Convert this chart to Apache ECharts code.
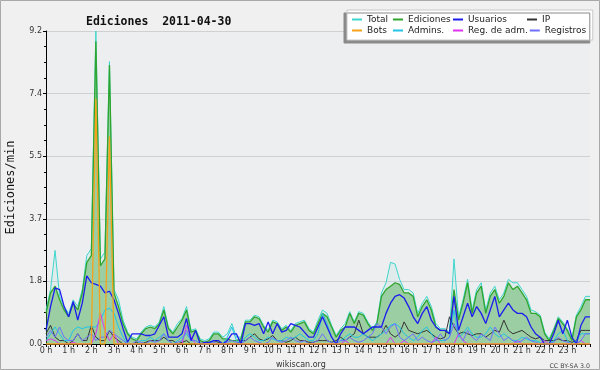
<!DOCTYPE html>
<html>
<head>
<meta charset="utf-8">
<script src="https://cdn.jsdelivr.net/npm/echarts@6/dist/echarts.min.js"></script>
<style>
  html, body { margin: 0; padding: 0; background: #f0f0f0; }
  #chart { width: 600px; height: 370px; }
</style>
</head>
<body>
<div id="chart"></div>
<script>
// one sample every 12 minutes, 0 h .. 24 h
const hourLabels = ['0 h', '1 h', '2 h', '3 h', '4 h', '5 h', '6 h', '7 h', '8 h', '9 h', '10 h', '11 h',
    '12 h', '13 h', '14 h', '15 h', '16 h', '17 h', '18 h', '19 h', '20 h', '21 h', '22 h', '23 h'];

const total = [1.0, 1.6, 2.75, 1.4, 1.1, 0.9, 1.3, 1.1, 1.6, 2.6, 2.8, 9.2, 2.5, 2.7, 8.3,
    1.6, 1.3, 0.7, 0.35, 0.2, 0.15, 0.35, 0.5, 0.55, 0.5, 0.65, 1.1, 0.5, 0.35, 0.6,
    0.75, 1.1, 0.4, 0.45, 0.15, 0.1, 0.15, 0.35, 0.35, 0.2, 0.3, 0.6, 0.2, 0.2, 0.7,
    0.7, 0.85, 0.8, 0.55, 0.4, 0.7, 0.65, 0.45, 0.55, 0.4, 0.6, 0.65, 0.7, 0.45, 0.35,
    0.7, 1.0, 0.9, 0.55, 0.25, 0.45, 0.6, 0.95, 0.65, 0.95, 0.9, 0.65, 0.45, 0.65, 1.5,
    1.8, 2.4, 2.35, 1.9, 1.6, 1.6, 1.5, 0.9, 1.2, 1.4, 1.1, 0.6, 0.45, 0.45, 0.35,
    2.5, 0.8, 1.3, 1.9, 1.0, 1.6, 1.8, 1.0, 1.5, 1.7, 1.3, 1.5, 1.9, 1.8, 1.8,
    1.6, 1.4, 1.0, 0.95, 0.85, 0.35, 0.15, 0.45, 0.8, 0.65, 0.45, 0.15, 0.85, 1.1, 1.4, 1.4];

const ediciones = [0.9, 1.5, 1.7, 1.3, 1.0, 0.8, 1.2, 1.0, 1.5, 2.4, 2.6, 8.9, 2.3, 2.5, 8.2,
    1.5, 1.1, 0.6, 0.3, 0.15, 0.1, 0.3, 0.45, 0.5, 0.45, 0.6, 1.0, 0.45, 0.3, 0.5,
    0.7, 1.0, 0.35, 0.4, 0.1, 0.05, 0.1, 0.3, 0.3, 0.15, 0.15, 0.1, 0.1, 0.15, 0.65,
    0.65, 0.8, 0.75, 0.5, 0.35, 0.65, 0.6, 0.4, 0.5, 0.35, 0.55, 0.6, 0.65, 0.4, 0.3,
    0.6, 0.9, 0.8, 0.5, 0.2, 0.4, 0.5, 0.9, 0.6, 0.9, 0.85, 0.6, 0.4, 0.6, 1.4,
    1.6, 1.7, 1.8, 1.75, 1.5, 1.5, 1.4, 0.8, 1.1, 1.3, 1.0, 0.5, 0.4, 0.4, 0.3,
    1.6, 0.7, 1.2, 1.8, 0.9, 1.5, 1.7, 0.9, 1.4, 1.6, 1.2, 1.4, 1.8, 1.6, 1.7,
    1.5, 1.3, 0.9, 0.9, 0.8, 0.3, 0.1, 0.4, 0.75, 0.6, 0.4, 0.1, 0.8, 1.0, 1.3, 1.3];

const usuarios = [0.4, 1.1, 1.65, 1.6, 1.1, 0.8, 1.25, 0.7, 1.2, 2.0, 1.8, 1.75, 1.7, 1.5, 1.55,
    1.3, 0.9, 0.45, 0.05, 0.3, 0.3, 0.3, 0.25, 0.25, 0.3, 0.55, 0.8, 0.2, 0.2, 0.2,
    0.3, 0.75, 0.1, 0.4, 0.0, 0.05, 0.05, 0.1, 0.1, 0.0, 0.1, 0.3, 0.3, 0.0, 0.6,
    0.6, 0.55, 0.6, 0.3, 0.65, 0.3, 0.6, 0.35, 0.4, 0.6, 0.55, 0.5, 0.35, 0.2, 0.2,
    0.5, 0.8, 0.5, 0.2, 0.0, 0.3, 0.5, 0.5, 0.5, 0.4, 0.3, 0.4, 0.5, 0.5, 0.5,
    0.9, 1.2, 1.4, 1.45, 1.35, 1.1, 0.8, 0.6, 0.9, 1.1, 0.7, 0.5, 0.4, 0.4, 0.3,
    1.4, 0.4, 0.8, 1.2, 0.8, 1.1, 0.9, 0.6, 1.0, 1.4, 0.8, 1.0, 1.2, 1.0, 0.9,
    0.9, 0.8, 0.5, 0.3, 0.2, 0.0, 0.0, 0.3, 0.7, 0.3, 0.7, 0.2, 0.0, 0.55, 0.8, 0.8];

const ip = [0.3, 0.55, 0.2, 0.1, 0.1, 0.0, 0.1, 0.3, 0.1, 0.1, 0.55, 0.2, 0.1, 0.1, 0.4,
    0.2, 0.1, 0.0, 0.0, 0.0, 0.05, 0.0, 0.05, 0.1, 0.1, 0.1, 0.2, 0.1, 0.1, 0.0,
    0.05, 0.1, 0.0, 0.0, 0.0, 0.0, 0.0, 0.1, 0.05, 0.0, 0.0, 0.0, 0.0, 0.1, 0.1,
    0.2, 0.3, 0.15, 0.1, 0.15, 0.25, 0.1, 0.1, 0.05, 0.1, 0.2, 0.1, 0.1, 0.05, 0.05,
    0.1, 0.1, 0.1, 0.05, 0.1, 0.2, 0.1, 0.2, 0.3, 0.7, 0.3, 0.2, 0.2, 0.2, 0.3,
    0.55, 0.3, 0.2, 0.3, 0.65, 0.4, 0.35, 0.3, 0.35, 0.4, 0.3, 0.2, 0.15, 0.2, 0.8,
    0.5, 0.3, 0.35, 0.3, 0.25, 0.3, 0.3, 0.2, 0.3, 0.4, 0.35, 0.7, 0.4, 0.3, 0.35,
    0.4, 0.3, 0.2, 0.15, 0.2, 0.1, 0.1, 0.1, 0.15, 0.1, 0.1, 0.05, 0.1, 0.4, 0.4, 0.4];

const bots = [0, 0, 0, 0, 0, 0, 0, 0, 0, 0, 0, 7.2, 0, 0, 6.1,
    0, 0, 0, 0, 0, 0, 0, 0, 0, 0, 0, 0, 0, 0, 0,
    0, 0, 0, 0, 0, 0, 0, 0, 0, 0, 0, 0, 0, 0, 0,
    0, 0, 0, 0, 0, 0, 0, 0, 0, 0, 0, 0, 0, 0, 0,
    0, 0, 0, 0, 0, 0, 0, 0, 0, 0, 0, 0, 0, 0, 0,
    0, 0, 0, 0, 0, 0, 0, 0, 0, 0, 0, 0, 0, 0, 0,
    0, 0, 0, 0, 0, 0, 0, 0, 0, 0, 0, 0, 0, 0, 0,
    0, 0, 0, 0, 0, 0, 0, 0, 0, 0, 0, 0, 0, 0, 0, 0];

const admins = [0.1, 0.3, 0.5, 0.3, 0.1, 0.1, 0.4, 0.5, 0.45, 0.5, 0.5, 0.5, 0.7, 1.0, 1.05,
    0.9, 0.5, 0.2, 0.0, 0.0, 0.0, 0.1, 0.1, 0.2, 0.1, 0.2, 0.3, 0.1, 0.0, 0.1,
    0.2, 0.3, 0.1, 0.1, 0.0, 0.0, 0.0, 0.1, 0.1, 0.0, 0.2, 0.5, 0.1, 0.0, 0.2,
    0.3, 0.2, 0.1, 0.1, 0.2, 0.15, 0.1, 0.1, 0.2, 0.15, 0.2, 0.3, 0.2, 0.1, 0.1,
    0.3, 0.9, 0.6, 0.2, 0.0, 0.1, 0.2, 0.3, 0.2, 0.2, 0.3, 0.2, 0.1, 0.2, 0.3,
    0.4, 0.55, 0.6, 0.5, 0.3, 0.2, 0.1, 0.2, 0.4, 0.5, 0.3, 0.1, 0.1, 0.1, 0.2,
    1.0, 0.2, 0.3, 0.5, 0.3, 0.2, 0.2, 0.3, 0.5, 0.3, 0.2, 0.3, 0.2, 0.1, 0.1,
    0.2, 0.15, 0.1, 0.1, 0.05, 0.0, 0.0, 0.1, 0.3, 0.4, 0.1, 0.0, 0.1, 0.3, 0.3, 0.3];

const regAdm = [0.1, 0.15, 0.1, 0, 0, 0, 0.05, 0, 0, 0, 0, 0.3, 0.9, 0.4, 0.1,
    0.3, 0, 0, 0, 0, 0, 0, 0, 0, 0, 0, 0, 0, 0, 0,
    0, 0.55, 0.2, 0, 0, 0, 0, 0, 0, 0, 0, 0, 0, 0, 0,
    0, 0, 0, 0, 0, 0, 0, 0, 0, 0, 0, 0, 0, 0, 0,
    0, 0, 0, 0, 0, 0, 0.1, 0, 0, 0, 0, 0, 0, 0, 0,
    0, 0.2, 0, 0, 0.1, 0, 0, 0, 0, 0, 0, 0.2, 0, 0, 0,
    0, 0.3, 0.1, 0, 0, 0, 0, 0, 0, 0, 0, 0, 0, 0, 0.1,
    0, 0, 0, 0, 0, 0.1, 0, 0, 0, 0, 0, 0, 0, 0.1, 0, 0];

const registros = [0.2, 0.4, 0.2, 0.5, 0.2, 0.1, 0.1, 0.3, 0.1, 0.2, 0.3, 0.1, 0.2, 0.2, 0.4,
    0.3, 0.2, 0.1, 0.0, 0.0, 0.1, 0.05, 0.0, 0.1, 0.05, 0.1, 0.3, 0.1, 0.0, 0.05,
    0.1, 0.4, 0.1, 0.1, 0, 0, 0, 0.05, 0, 0, 0.05, 0.1, 0.05, 0, 0.1,
    0.2, 0.1, 0.05, 0, 0.05, 0.2, 0.1, 0.05, 0.1, 0.2, 0.1, 0.05, 0.1, 0, 0.05,
    0.1, 0.3, 0.1, 0.05, 0, 0.1, 0.1, 0.2, 0.1, 0.05, 0.1, 0.2, 0.3, 0.6, 0.5,
    0.3, 0.5, 0.6, 0.2, 0.1, 0.2, 0.3, 0.1, 0.2, 0.1, 0.05, 0.1, 0.3, 0.1, 0.2,
    0.6, 0.3, 0.1, 0.4, 0.2, 0.1, 0.3, 0.2, 0.1, 0.5, 0.3, 0.1, 0.2, 0.1, 0.05,
    0.1, 0.2, 0.1, 0.05, 0, 0, 0, 0.05, 0.2, 0.1, 0.05, 0, 0, 0.1, 0.3, 0.3];

// x categories: label only on full hours
var slots = [];
for (var i = 0; i < total.length; i++) {
    slots.push(i % 5 === 0 && hourLabels[i / 5] ? hourLabels[i / 5] : '');
}

// legend columns (4 per row, two rows like the original box)
const legendCols = {
    'Total': 'c1', 'Bots': 'c1',
    'Ediciones': 'c2', 'Admins.': 'c2',
    'Usuarios': 'c3', 'Reg. de adm.': 'c3',
    'IP': 'c4', 'Registros': 'c4'
};

function lineSeries(name, data, color, width, z) {
    return {
        name: name,
        type: 'line',
        data: data,
        symbol: 'none',
        z: z,
        lineStyle: { color: color, width: width },
        itemStyle: { color: color }
    };
}

var chartDom = document.getElementById('chart');
var myChart = echarts.init(chartDom, null, { renderer: 'canvas' });

var totalSeries = lineSeries('Total', total, '#3ed6cc', 1, 2);
totalSeries.areaStyle = { color: 'rgba(120,220,210,0.15)' };
var edSeries = lineSeries('Ediciones', ediciones, '#2ea52e', 1.3, 3);
edSeries.areaStyle = { color: 'rgba(45,160,45,0.55)' };

var option = {
    animation: false,
    backgroundColor: '#f0f0f0',
    textStyle: { fontFamily: 'DejaVu Sans' },
    title: [
        {
            text: 'Ediciones  2011-04-30',
            left: 81, top: 11,
            textStyle: { fontFamily: 'DejaVu Sans Mono', fontWeight: 'bold', fontSize: 11.5, color: '#111' }
        },
        {
            text: 'wikiscan.org',
            left: 271, top: 356,
            textStyle: { fontFamily: 'DejaVu Sans', fontWeight: 'normal', fontSize: 8, color: '#333' }
        },
        {
            text: 'CC BY-SA 3.0',
            right: 5, top: 358,
            textStyle: { fontFamily: 'DejaVu Sans', fontWeight: 'normal', fontSize: 6.3, color: '#444' }
        }
    ],
    legend: {
        left: 347, top: 10,
        width: 250,
        padding: [5, 4, 5, 5],
        itemWidth: 10,
        itemHeight: 2,
        itemGap: 2,
        icon: 'rect',
        backgroundColor: '#ffffff',
        borderColor: '#c8c8c8',
        borderWidth: 1,
        shadowColor: '#8a8a8a',
        shadowOffsetX: -3,
        shadowOffsetY: 3,
        shadowBlur: 0,
        data: ['Total', 'Ediciones', 'Usuarios', 'IP', 'Bots', 'Admins.', 'Reg. de adm.', 'Registros'],
        formatter: function (name) {
            return '{' + legendCols[name] + '|' + name + '}';
        },
        textStyle: {
            fontSize: 9,
            color: '#222',
            rich: {
                c1: { width: 24, lineHeight: 8, fontSize: 9 },
                c2: { width: 43, lineHeight: 8, fontSize: 9 },
                c3: { width: 57, lineHeight: 8, fontSize: 9 },
                c4: { width: 44, lineHeight: 8, fontSize: 9 }
            }
        }
    },
    graphic: [{
        type: 'rect',
        silent: true,
        z: -10,
        shape: { x: 0.5, y: 0.5, width: 599, height: 369 },
        style: { fill: null, stroke: '#a8a8a8', lineWidth: 1 }
    }],
    grid: {
        left: 46, right: 10, top: 31, bottom: 26,
        outerBoundsMode: 'none',
        containLabel: false,
        show: true,
        backgroundColor: '#eceef0',
        borderWidth: 0
    },
    xAxis: {
        type: 'category',
        data: slots,
        boundaryGap: false,
        axisLine: { lineStyle: { color: '#000', width: 1 } },
        axisTick: { show: true, interval: 0, length: 3, lineStyle: { color: '#000' } },
        axisLabel: { interval: 0, fontSize: 8, color: '#333', margin: 3 },
        splitLine: { show: false }
    },
    yAxis: {
        type: 'value',
        min: 0,
        max: 9.2,
        interval: 1.84,
        name: 'Ediciones/min',
        nameLocation: 'middle',
        nameGap: 29,
        nameTextStyle: { fontFamily: 'DejaVu Sans Mono', fontSize: 12, color: '#111' },
        axisLine: { show: true, lineStyle: { color: '#000', width: 1 } },
        axisTick: { show: true, length: 3, lineStyle: { color: '#000' } },
        minorTick: { show: true, splitNumber: 4, length: 2, lineStyle: { color: '#000' } },
        axisLabel: {
            fontSize: 8, color: '#333', margin: 4,
            formatter: function (v) { return v.toFixed(1); }
        },
        splitLine: { show: true, lineStyle: { color: '#cfd0d2', width: 1 } }
    },
    series: [
        totalSeries,
        edSeries,
        lineSeries('Usuarios', usuarios, '#1c1cef', 1.3, 5),
        lineSeries('IP', ip, '#333333', 1, 4),
        lineSeries('Bots', bots, '#f7a21b', 1.3, 6),
        lineSeries('Admins.', admins, '#22c3e6', 1, 4),
        lineSeries('Reg. de adm.', regAdm, '#dd33ee', 1, 4),
        lineSeries('Registros', registros, '#6f6fff', 1, 4)
    ]
};

option && myChart.setOption(option);
</script>
</body>
</html>
